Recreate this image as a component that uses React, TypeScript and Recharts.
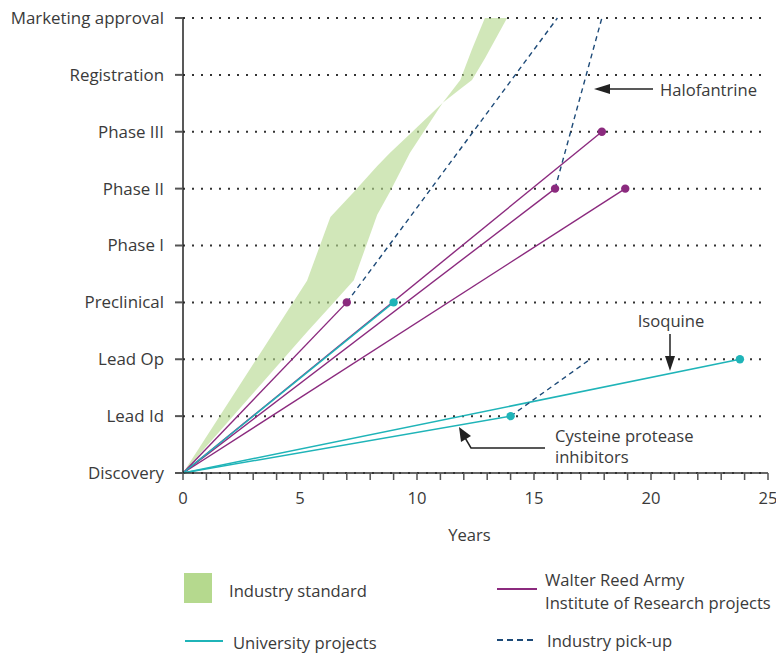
import { ComposedChart, Area, Line, XAxis, YAxis, CartesianGrid } from "recharts";

const stages = ['Discovery', 'Lead Id', 'Lead Op', 'Preclinical', 'Phase I', 'Phase II', 'Phase III', 'Registration', 'Marketing approval'];
const stageTicks = [0, 1, 2, 3, 4, 5, 6, 7, 8];
const yearTicks = [0, 1, 2, 3, 4, 5, 6, 7, 8, 9, 10, 11, 12, 13, 14, 15, 16, 17, 18, 19, 20, 21, 22, 23, 24, 25];
const yearLabels = [0, 5, 10, 15, 20, 25];

// industry standard band: lower / upper edge read at each year
const bandYears = [0, 5.3, 6.3, 7.3, 8.3, 8.85, 9.7, 11.1, 11.85, 12.35, 12.9, 13.85];
const bandLow = [0, 2.48, 2.93, 3.39, 4.54, 4.95, 5.63, 6.51, 6.75, 6.91, 7.29, 8];
const bandHigh = [0, 3.38, 4.5, 4.94, 5.4, 5.63, 5.96, 6.51, 6.91, 7.45, 8, 8];

// Walter Reed projects: all start at Discovery, year 0
const wrairYears = [7, 17.9, 15.9, 18.9];
const wrairStages = [3, 6, 5, 5];

// university projects
const uniYears = [9, 14, 23.8];
const uniStages = [3, 1, 2];

// industry pick-up segments
const pickFromYears = [7, 15.9, 14];
const pickFromStages = [3, 5, 1];
const pickToYears = [16, 17.9, 17.4];
const pickToStages = [8, 8, 2];

const PURPLE = '#8b2a7e';
const CYAN = '#1fb4b8';
const NAVY = '#1d4a78';
const GREEN = '#b5d98e';
const TEXT = '#3a3a3a';
const FS = 16.6;

const bandData = bandYears.map((x, i) => ({ x, band: [bandLow[i], bandHigh[i]] }));

const endDot = (color: string) => (props: any) => {
  const { cx, cy, index } = props;
  if (index !== 1) return <g key={`d-${index}`} />;
  return <circle key={`d-${index}`} cx={cx} cy={cy} r={4.2} fill={color} stroke="none" />;
};

function Annotations() {
  return (
    <svg width={776} height={655} style={{ position: 'absolute', left: 0, top: 0, pointerEvents: 'none' }}>
      <g fill={TEXT} fontSize={FS}>
        <text x={660} y={89} dominantBaseline="central">Halofantrine</text>
        <text x={671} y={320} dominantBaseline="central" textAnchor="middle">Isoquine</text>
        <text x={555} y={435} dominantBaseline="central">Cysteine protease</text>
        <text x={555} y={456} dominantBaseline="central">inhibitors</text>
      </g>
      <g stroke="#222" strokeWidth={1.5} fill="none">
        <line x1={653} y1={89} x2={605} y2={89} />
        <line x1={670} y1={334} x2={670} y2={358} />
        <polyline points="545,448 471,448 464,436" />
      </g>
      <g fill="#222">
        <polygon points="594,89 610,84 610,94" />
        <polygon points="670,371 665,356 675,356" />
        <polygon points="459,427 461,442 471,436" />
      </g>
      {/* legend */}
      <rect x={184} y={573} width={28} height={30} fill={GREEN} />
      <text x={229} y={590} fill={TEXT} fontSize={FS} dominantBaseline="central">Industry standard</text>
      <line x1={497} y1={589} x2={537} y2={589} stroke={PURPLE} strokeWidth={2} />
      <text x={545} y={579} fill={TEXT} fontSize={FS} dominantBaseline="central">Walter Reed Army</text>
      <text x={545} y={602} fill={TEXT} fontSize={FS} dominantBaseline="central">Institute of Research projects</text>
      <line x1={185} y1={641} x2={223} y2={641} stroke={CYAN} strokeWidth={2} />
      <text x={233} y={642} fill={TEXT} fontSize={FS} dominantBaseline="central">University projects</text>
      <line x1={497} y1={640} x2={537} y2={640} stroke={NAVY} strokeWidth={2} strokeDasharray="6 4" />
      <text x={547} y={640} fill={TEXT} fontSize={FS} dominantBaseline="central">Industry pick-up</text>
    </svg>
  );
}

export default function App() {
  return (
    <div style={{ position: 'absolute', left: 0, top: 0, width: 776, height: 655, fontFamily: '"Open Sans", sans-serif', background: '#fff' }}>
      <ComposedChart width={776} height={655} margin={{ top: 18, right: 8, left: 0, bottom: 112 }}>
        <CartesianGrid horizontal vertical={false} stroke="#333" strokeWidth={2} strokeDasharray="2 7" />
        <XAxis
          type="number"
          dataKey="x"
          domain={[0, 25]}
          ticks={yearTicks}
          interval={0}
          tickFormatter={(v: number) => (yearLabels.includes(v) ? String(v) : '')}
          tick={{ fill: TEXT, fontSize: FS }}
          tickSize={7}
          tickMargin={12}
          axisLine={{ stroke: '#333', strokeWidth: 1.5 }}
          tickLine={{ stroke: '#555', strokeWidth: 1.5 }}
          height={70}
          label={{ value: 'Years', position: 'insideBottom', offset: 2, dx: -6, fill: TEXT, fontSize: FS }}
        />
        <YAxis
          type="number"
          domain={[0, 8]}
          ticks={stageTicks}
          interval={0}
          tickFormatter={(v: number) => stages[v]}
          tick={{ fill: TEXT, fontSize: 16.9 }}
          tickSize={8}
          tickMargin={11}
          width={183}
          axisLine={{ stroke: '#222', strokeWidth: 1.5 }}
          tickLine={{ stroke: '#555', strokeWidth: 2 }}
        />
        <Area
          data={bandData}
          dataKey="band"
          type="linear"
          stroke="none"
          fill={GREEN}
          fillOpacity={0.62}
          isAnimationActive={false}
        />
        {wrairYears.map((yr, i) => (
          <Line
            key={`w-${i}`}
            data={[{ x: 0, y: 0 }, { x: yr, y: wrairStages[i] }]}
            dataKey="y"
            type="linear"
            stroke={PURPLE}
            strokeWidth={1.4}
            dot={endDot(PURPLE)}
            activeDot={false}
            isAnimationActive={false}
          />
        ))}
        {uniYears.map((yr, i) => (
          <Line
            key={`u-${i}`}
            data={[{ x: 0, y: 0 }, { x: yr, y: uniStages[i] }]}
            dataKey="y"
            type="linear"
            stroke={CYAN}
            strokeWidth={1.5}
            dot={endDot(CYAN)}
            activeDot={false}
            isAnimationActive={false}
          />
        ))}
        {pickFromYears.map((yr, i) => (
          <Line
            key={`p-${i}`}
            data={[{ x: yr, y: pickFromStages[i] }, { x: pickToYears[i], y: pickToStages[i] }]}
            dataKey="y"
            type="linear"
            stroke={NAVY}
            strokeWidth={1.4}
            strokeDasharray="5 4"
            dot={false}
            activeDot={false}
            isAnimationActive={false}
          />
        ))}
      </ComposedChart>
      <Annotations />
    </div>
  );
}
